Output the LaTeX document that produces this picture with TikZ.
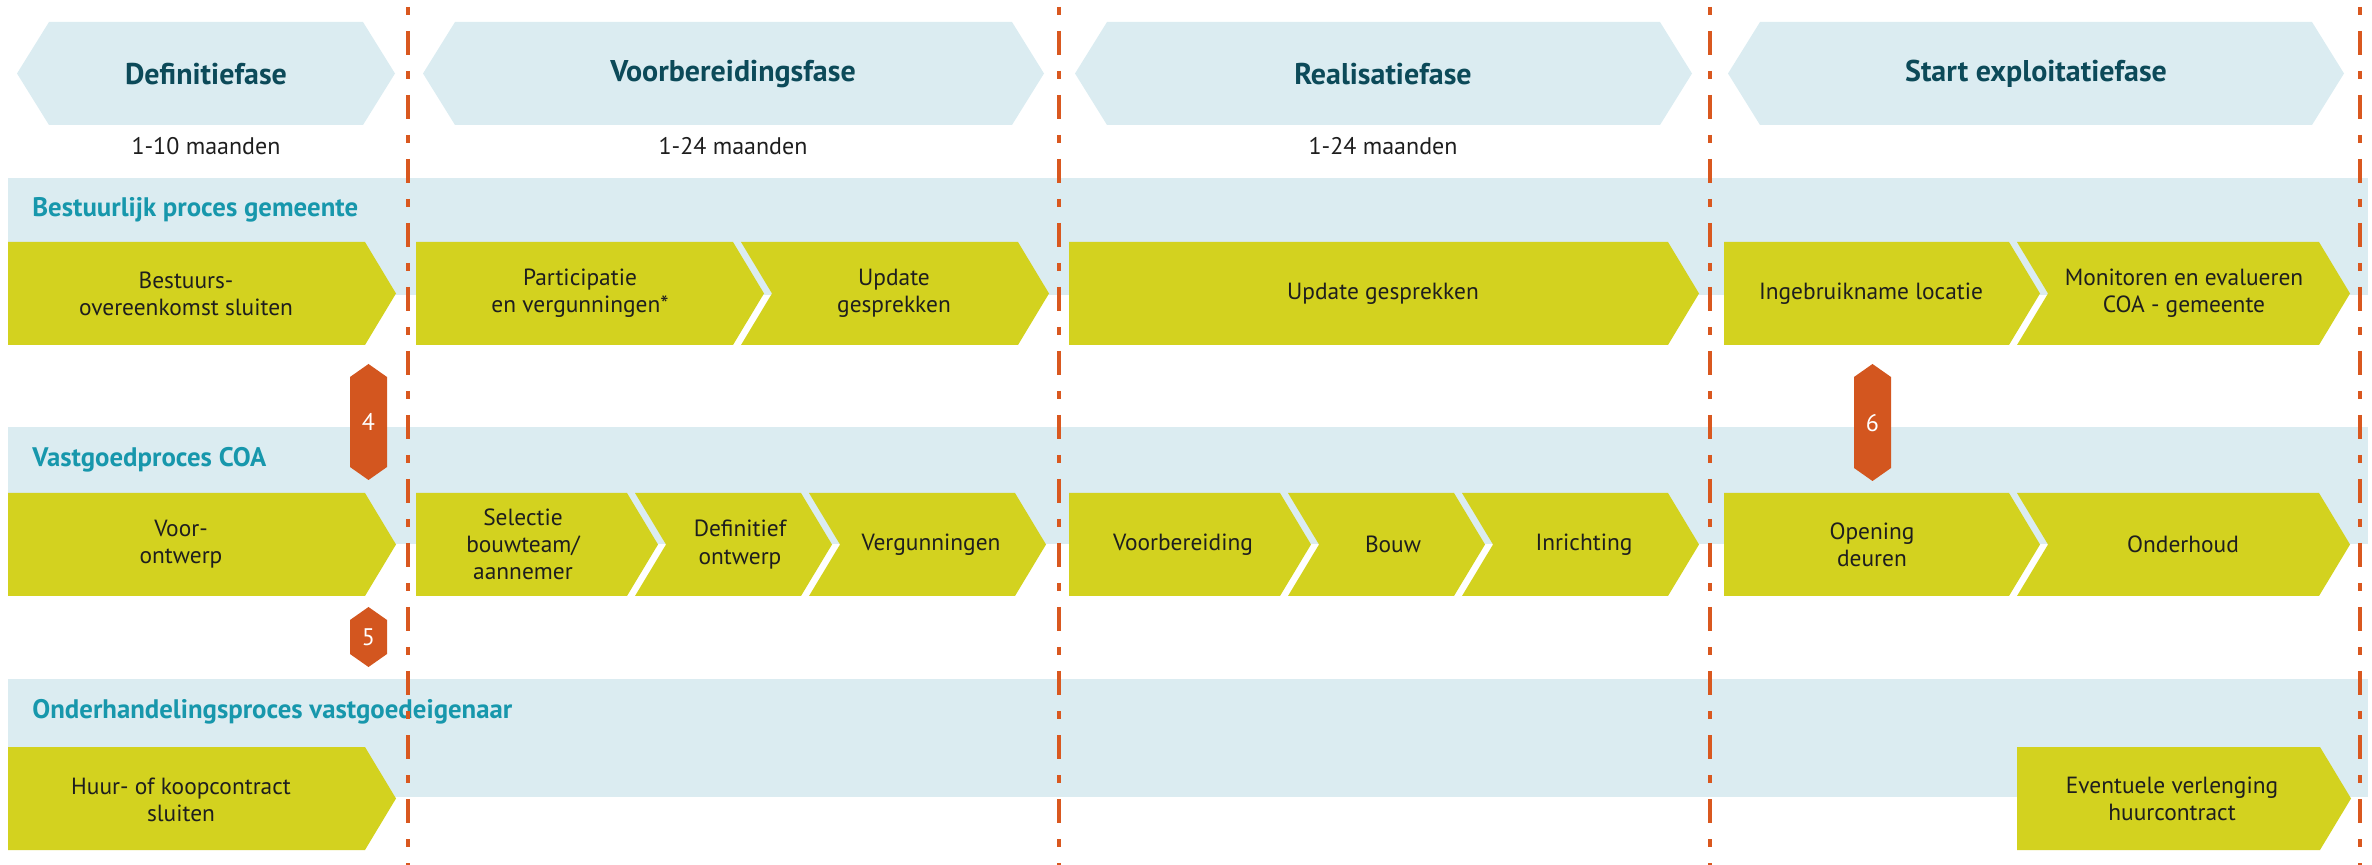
\documentclass[tikz,border=0pt]{standalone}
\usepackage{fontspec}
\setmainfont{PT Sans}
\usepackage{tikz}
\usetikzlibrary{positioning}
\definecolor{colorlane}{HTML}{DBECF1}
\definecolor{colorstap}{HTML}{D3D21F}
\definecolor{colormark}{HTML}{D3561F}
\definecolor{colorgrens}{HTML}{D9581F}
\definecolor{colorfase}{HTML}{0C4A59}
\definecolor{colorproces}{HTML}{1797AC}
\definecolor{colortekst}{HTML}{1E1E1E}
\tikzset{
  lane/.style={fill=colorlane},
  stap/.style={fill=colorstap},
  marker/.style={fill=colormark},
  grens/.style={colorgrens, line width=1.65pt, dash pattern=on 4pt off 8pt on 12pt off 8pt},
  fasetekst/.style={font=\fontsize{15}{17}\selectfont\bfseries, text=colorfase},
  duur/.style={font=\fontsize{12}{14}\selectfont, text=colortekst},
  proces/.style={anchor=west, inner sep=0pt, font=\fontsize{13.4}{16}\selectfont\bfseries, text=colorproces},
  staptekst/.style={align=center, font=\fontsize{11.7}{13.6}\selectfont, text=colortekst},
  nummer/.style={font=\fontsize{12}{14}\selectfont, text=white}
}
% hexagon: left tip x, right tip x
\newcommand\fase[2]{\fill[lane] (#1,73.5) -- (#1+32,22) -- (#2-32,22) -- (#2,73.5) -- (#2-32,125) -- (#1+32,125) -- cycle;}
% arrow with flat / notched tail: left x, corner x, top y
\newcommand\pijl[3]{\fill[stap] (#1,#3) -- (#2,#3) -- ++(31,51.5) -- ++(-31,51.5) -- (#1,#3+103) -- cycle;}
\newcommand\pijlin[3]{\fill[stap] (#1,#3) -- (#2,#3) -- ++(31,51.5) -- ++(-31,51.5) -- (#1,#3+103) -- ++(31,-51.5) -- cycle;}
% marker: centre x, top y, bottom y
\newcommand\merk[3]{\fill[marker] (#1,#2) -- (#1+18.5,#2+13) -- (#1+18.5,#3-13) -- (#1,#3) -- (#1-18.5,#3-13) -- (#1-18.5,#2+13) -- cycle;}

\begin{document}
\begin{tikzpicture}[x=0.5pt, y=-0.5pt]
\useasboundingbox (0,0) rectangle (2372,865);
% fasen
\fase{17}{395}
\fase{423}{1044}
\fase{1075}{1692}
\fase{1728}{2344}
\node[fasetekst] (def) at (206,74) {Definitiefase};
\node[fasetekst] (voorb) at (733,74) {Voorbereidingsfase};
\node[fasetekst] (real) at (1383,74) {Realisatiefase};
\node[fasetekst] (start) at (2036,74) {Start exploitatiefase};
\node[duur] (duurdef) at (206,146) {1-10 maanden};
\node[duur] (duurvoorb) at (733,146) {1-24 maanden};
\node[duur] (duurreal) at (1383,146) {1-24 maanden};
% banen
\fill[lane] (8,178) rectangle (2368,295);
\fill[lane] (8,427) rectangle (2368,544);
\fill[lane] (8,679) rectangle (2368,797);
\node[proces] (bestuur) at (32,210) {Bestuurlijk proces gemeente};
\node[proces] (vastgoed) at (32,460) {Vastgoedproces COA};
\node[proces] (onderh) at (32,712) {Onderhandelingsproces vastgoedeigenaar};
% stappen bestuurlijk
\pijl{8}{365}{242}
\pijl{416}{733}{242}
\pijlin{741}{1018}{242}
\pijl{1069}{1668}{242}
\pijl{1724}{2009}{242}
\pijlin{2017}{2319}{242}
\node[staptekst] (s11) at (186,293.5) {Bestuurs-\\overeenkomst sluiten};
\node[staptekst] (s12) at (580,293.5) {Participatie\\en vergunningen*};
\node[staptekst] (s13) at (894,293.5) {Update\\gesprekken};
\node[staptekst] (s14) at (1383,293.5) {Update gesprekken};
\node[staptekst] (s15) at (1871,293.5) {Ingebruikname locatie};
\node[staptekst] (s16) at (2184,293.5) {Monitoren en evalueren\\COA - gemeente};
% stappen vastgoed
\pijl{8}{365}{493}
\pijl{416}{627}{493}
\pijlin{635}{801}{493}
\pijlin{809}{1015}{493}
\pijl{1069}{1280}{493}
\pijlin{1288}{1454}{493}
\pijlin{1462}{1668}{493}
\pijl{1724}{2009}{493}
\pijlin{2017}{2319}{493}
\node[staptekst] (s21) at (181,544.5) {Voor-\\ontwerp};
\node[staptekst] (s22) at (523,544.5) {Selectie\\bouwteam/\\aannemer};
\node[staptekst] (s23) at (740,544.5) {Definitief\\ontwerp};
\node[staptekst] (s24) at (931,544.5) {Vergunningen};
\node[staptekst] (s25) at (1183,544.5) {Voorbereiding};
\node[staptekst] (s26) at (1393,544.5) {Bouw};
\node[staptekst] (s27) at (1584,544.5) {Inrichting};
\node[staptekst] (s28) at (1872,544.5) {Opening\\deuren};
\node[staptekst] (s29) at (2183,544.5) {Onderhoud};
% stappen onderhandeling
\pijl{8}{365}{747}
\pijl{2017}{2320}{747}
\node[staptekst] (s31) at (181,800) {Huur- of koopcontract\\sluiten};
\node[staptekst] (s32) at (2172,798.5) {Eventuele verlenging\\huurcontract};
% markers
\merk{368.5}{364}{480}
\node[nummer] (m4) at (368.5,422) {4};
\merk{368.5}{607}{667}
\node[nummer] (m5) at (368.5,637) {5};
\merk{1872.5}{364}{481}
\node[nummer] (m6) at (1872.5,423) {6};
% fasegrenzen
\foreach \x in {408,1059,1710,2360}
  \draw[grens] (\x,7) -- (\x,865);
\end{tikzpicture}
\end{document}
